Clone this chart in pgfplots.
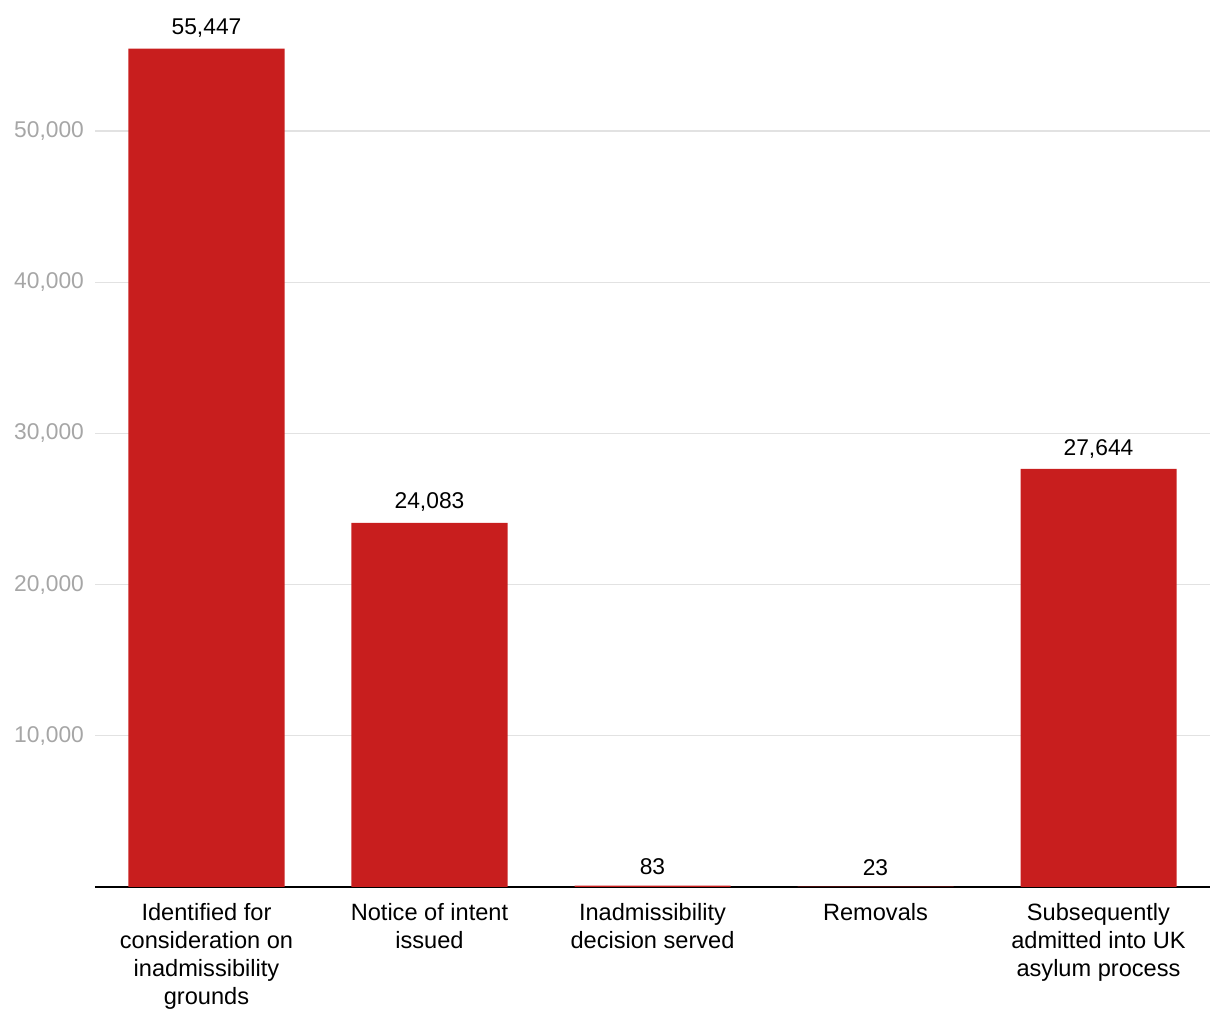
\documentclass[border=0pt]{standalone}
\usepackage{pgfplots}
\pgfplotsset{compat=1.18}
\usepackage{fontspec}
\setmainfont{Liberation Sans}
\definecolor{barred}{HTML}{C81E1E}
\definecolor{ticktext}{HTML}{A6A6A6}
\definecolor{gridc}{HTML}{E2E2E2}
\begin{document}
\begin{tikzpicture}
\begin{axis}[
  scale only axis,
  width=557.5pt, height=438.5pt,
  xmin=-0.5, xmax=4.5,
  ymin=0, ymax=58000,
  ybar, bar width=78pt,
  xtick={0,1,2,3,4},
  xticklabels={{Identified for\\consideration on\\inadmissibility\\grounds},{Notice of intent\\issued},{Inadmissibility\\decision served},{Removals},{Subsequently\\admitted into UK\\asylum process}},
  xticklabel style={align=center, font=\fontsize{11.8}{14}\selectfont, text=black, yshift=-4.5pt},
  ytick={10000,20000,30000,40000,50000},
  yticklabel style={font=\fontsize{11.4}{13}\selectfont, text=ticktext, xshift=-2pt},
  /pgf/number format/assume math mode=true,
  /pgf/number format/1000 sep={,},
  scaled y ticks=false,
  ymajorgrids, grid style={gridc, line width=0.6pt},
  axis x line*=bottom, axis y line*=left,
  y axis line style={draw=none},
  x axis line style={black, line width=0.8pt, -},
  major tick length=0pt,
  nodes near coords,
  nodes near coords style={font=\fontsize{11.4}{13}\selectfont, text=black, /pgf/number format/1000 sep={,}, yshift=2pt},
  clip=false,
]
\addplot[fill=barred, draw=none] coordinates {(0,55447) (1,24083) (2,83) (3,23) (4,27644)};
\end{axis}
\pgfresetboundingbox
\path (-47.5pt,-66.5pt) rectangle (562.5pt,443.5pt);
\end{tikzpicture}
\end{document}
